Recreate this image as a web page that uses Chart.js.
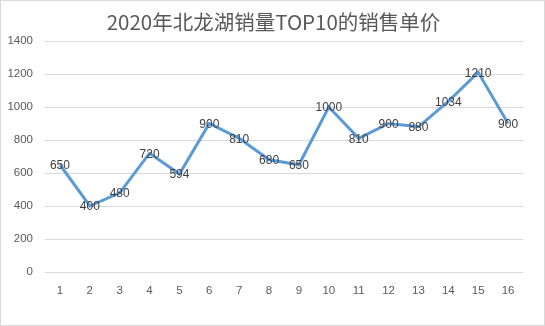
<!DOCTYPE html>
<html>
<head>
<meta charset="utf-8">
<script src="https://cdn.jsdelivr.net/npm/chart.js@4/dist/chart.umd.min.js"></script>
<style>
  html, body { margin: 0; padding: 0; background: #ffffff; }
  #wrap { width: 545px; height: 326px; position: relative; box-sizing: border-box; border: 1px solid #d9d9d9; }
  canvas { display: block; }
</style>
</head>
<body>
<div id="wrap"><canvas id="c" width="543" height="324"></canvas></div>
<script>
// Average unit price of the top-10 sellers, by rank
const titleText = '2020年北龙湖销量TOP10的销售单价';
const categories = ['1','2','3','4','5','6','7','8','9','10','11','12','13','14','15','16'];
const unitPrice = [650, 400, 480, 720, 594, 900, 810, 680, 650, 1000, 810, 900, 880, 1034, 1210, 900];
const yTicks = [0, 200, 400, 600, 800, 1000, 1200, 1400];

const textColor = '#595959';
const baseFont = "'Liberation Sans', 'Noto Sans CJK SC', sans-serif";

// Title drawn centred above the plot
const titlePlugin = {
  id: 'topTitle',
  afterDraw(chart) {
    const ctx = chart.ctx;
    ctx.save();
    ctx.font = "20.5px 'Noto Sans CJK SC', sans-serif";
    ctx.fillStyle = textColor;
    ctx.textAlign = 'center';
    ctx.textBaseline = 'middle';
    ctx.fillText(titleText, chart.width / 2 + 1, 21);
    ctx.restore();
  }
};

// Value written on top of each point
const valueLabels = {
  id: 'valueLabels',
  afterDatasetsDraw(chart) {
    const ctx = chart.ctx;
    const meta = chart.getDatasetMeta(0);
    const data = chart.data.datasets[0].data;
    ctx.save();
    ctx.font = '12px ' + baseFont;
    ctx.fillStyle = '#404040';
    ctx.textAlign = 'center';
    ctx.textBaseline = 'middle';
    meta.data.forEach((pt, i) => {
      ctx.fillText(String(data[i]), pt.x, pt.y + 1);
    });
    ctx.restore();
  }
};

new Chart(document.getElementById('c'), {
  type: 'line',
  data: {
    labels: categories,
    datasets: [{
      data: unitPrice,
      borderColor: '#5b9bd5',
      borderWidth: 3,
      pointRadius: 0,
      tension: 0,
      fill: false
    }]
  },
  options: {
    responsive: false,
    animation: false,
    layout: { padding: { left: 0, right: 21, top: 40, bottom: 0 } },
    plugins: { legend: { display: false }, tooltip: { enabled: false }, title: { display: false } },
    scales: {
      x: {
        offset: true,
        grid: { display: false, drawTicks: false },
        border: { display: false },
        ticks: { color: textColor, font: { size: 11.5, family: baseFont }, padding: 12, maxRotation: 0 },
        afterFit(scale) { scale.height = 53; }
      },
      y: {
        min: 0,
        max: 1400,
        afterBuildTicks(scale) { scale.ticks = yTicks.map(v => ({ value: v })); },
        grid: { color: '#d9d9d9', lineWidth: 1, drawTicks: false },
        border: { display: false },
        ticks: {
          color: textColor,
          font: { size: 11.5, family: baseFont },
          padding: 12,
          callback: (v) => String(v)
        },
        afterFit(scale) { scale.width = 44; }
      }
    }
  },
  plugins: [titlePlugin, valueLabels]
});
</script>
</body>
</html>
